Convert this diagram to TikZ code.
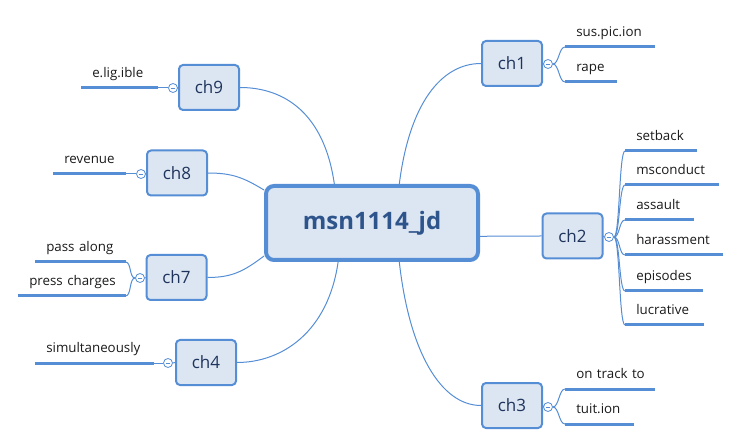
\documentclass[tikz,border=0pt]{standalone}
\usepackage{fontspec}
\setmainfont{Open Sans}
\usepackage{tikz}
\definecolor{mapblue}{RGB}{85,142,213}
\definecolor{boxfill}{RGB}{220,230,242}
\definecolor{titleblue}{RGB}{46,84,140}
\definecolor{chtext}{RGB}{31,52,92}
\definecolor{leaftext}{RGB}{26,26,26}

\begin{document}
\begin{tikzpicture}[x=0.75pt,y=0.75pt,yscale=-1,xscale=1,
  topic/.style={draw=mapblue,fill=boxfill,line width=3pt,rounded corners=6pt,minimum width=159pt,minimum height=55.5pt,text=titleblue,font=\fontsize{18}{22}\selectfont\bfseries},
  chapter/.style={draw=mapblue,fill=boxfill,line width=1.5pt,rounded corners=3pt,minimum width=45pt,minimum height=33.75pt,text=chtext,font=\fontsize{12.75}{15}\selectfont},
  fold/.style={circle,draw=mapblue,fill=white,line width=0.6pt,minimum size=6.75pt,inner sep=0pt,path picture={\draw[mapblue,line width=0.5pt] ([xshift=1.6pt]path picture bounding box.west) -- ([xshift=-1.6pt]path picture bounding box.east);}},
  leaf/.style={anchor=south west,inner xsep=0pt,inner ysep=7.5pt,text width=#1,align=left,text depth=0pt,text=leaftext,font=\fontsize{10}{12}\selectfont,execute at begin node={\noindent\hspace*{8.25pt}}},
  branch/.style={draw=mapblue,line width=0.75pt},
  leafline/.style={draw=mapblue,line width=2.25pt}
]
\useasboundingbox (0,0) rectangle (739,445);

%Rounded Rect [id:main]
\node[topic] (main) at (372,223) {msn1114\_jd};

%Rounded Rect [id:chapters]
\node[chapter] (ch1) at (512,63.5) {ch1};
\node[chapter] (ch2) at (572.5,236) {ch2};
\node[chapter] (ch3) at (512,405.5) {ch3};
\node[chapter] (ch9) at (209,87.5) {ch9};
\node[chapter] (ch8) at (177,173) {ch8};
\node[chapter] (ch7) at (176.5,277.5) {ch7};
\node[chapter] (ch4) at (206,362.5) {ch4};

%Circle [id:folds]
\node[fold] (f1) at (548,64) {};
\node[fold] (f2) at (609,237) {};
\node[fold] (f3) at (548,407) {};
\node[fold] (f9) at (173,88) {};
\node[fold] (f8) at (141,174) {};
\node[fold] (f7) at (140,278) {};
\node[fold] (f4) at (168,363) {};

% Text Node
\node[leaf=66.75pt] (l11) at (565,47) {sus.pic.ion};
\node[leaf=38.25pt] (l12) at (565,82) {rape};
\node[leaf=53.25pt] (l21) at (625,151) {setback};
\node[leaf=69.75pt] (l22) at (625,185) {msconduct};
\node[leaf=51pt] (l23) at (625,220) {assault};
\node[leaf=72.75pt] (l24) at (625,255) {harassment};
\node[leaf=57.75pt] (l25) at (625,291) {episodes};
\node[leaf=58.5pt] (l26) at (625,325) {lucrative};
\node[leaf=66.75pt] (l31) at (565,389) {on track to};
\node[leaf=51pt] (l32) at (565,424) {tuit.ion};
\node[leaf=57pt] (l91) at (81,88) {e.lig.ible};
\node[leaf=54pt] (l81) at (53,174) {revenue};
\node[leaf=67.5pt] (l71) at (35,262) {pass along};
\node[leaf=80.25pt] (l72) at (18,296) {press charges};
\node[leaf=88.5pt] (l41) at (35,363) {simultaneously};

%Curve Lines [id:main to chapters]
\draw[branch] (main.55) .. controls +(10,-80) and +(-40,0) .. (ch1.west);
\draw[branch] (main.-7) to[out=0,in=180] (ch2.west);
\draw[branch] (main.305) .. controls +(10,90) and +(-40,0) .. (ch3.west);
\draw[branch] (main.134) .. controls +(-10,-70) and +(45,0) .. (ch9.east);
\draw[branch] (main.163) .. controls +(-20,-12) and +(25,0) .. (ch8.east);
\draw[branch] (main.197) .. controls +(-20,15) and +(25,0) .. (ch7.east);
\draw[branch] (main.229) .. controls +(-10,70) and +(45,0) .. (ch4.east);

%Straight Lines [id:chapters to folds]
\foreach \c/\f in {ch1/f1,ch2/f2,ch3/f3} \draw[branch] (\c.east) -- (\f.west);
\foreach \c/\f in {ch9/f9,ch8/f8,ch7/f7,ch4/f4} \draw[branch] (\c.west) -- (\f.east);

%Curve Lines [id:folds to leaves]
\foreach \f/\l in {f1/l11,f1/l12,f2/l21,f2/l22,f2/l23,f2/l24,f2/l25,f2/l26,f3/l31,f3/l32}
  \draw[branch] (\f.east) .. controls +(6,0) and +(-6,0) .. (\l.south west);
\foreach \f/\l in {f7/l71,f7/l72}
  \draw[branch] (\f.west) .. controls +(-6,0) and +(6,0) .. (\l.south east);
\foreach \f/\l in {f9/l91,f8/l81,f4/l41}
  \draw[branch] (\f.west) -- (\l.south east);

%Straight Lines [id:leaf underlines]
\foreach \l in {l11,l12,l21,l22,l23,l24,l25,l26,l31,l32,l91,l81,l71,l72,l41}
  \draw[leafline] (\l.south west) -- (\l.south east);

\end{tikzpicture}
\end{document}
